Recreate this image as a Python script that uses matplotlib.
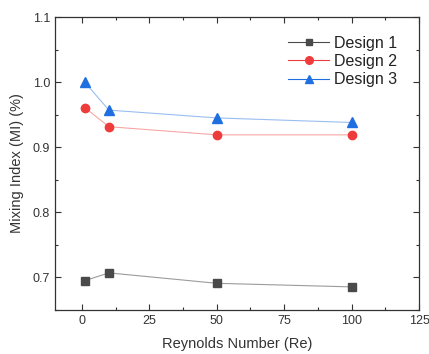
import numpy as np
import matplotlib
matplotlib.use("Agg")
import matplotlib.pyplot as plt
from matplotlib.ticker import MultipleLocator
from matplotlib.lines import Line2D

plt.rcParams.update({"font.family": ["Liberation Sans", "DejaVu Sans"], "font.size": 9})

re = [1, 10, 50, 100]
design1 = [0.695, 0.707, 0.691, 0.6855]
design2 = [0.961, 0.9315, 0.919, 0.919]
design3 = [1.000, 0.957, 0.945, 0.938]
labels = ["Design 1", "Design 2", "Design 3"]

C1 = "#4a4a4a"; C2 = "#ee3b3b"; C3 = "#1f6fe0"
TXT = "#333333"

fig = plt.figure(figsize=(4.29, 3.54), dpi=100)
ax = fig.add_axes([55/429, 1 - 310/354, (419-55)/429, (310-17)/354])

ax.plot(re, design1, color=C1, lw=0.8, alpha=0.55, zorder=1)
ax.plot(re, design1, ls="none", marker="s", ms=5.5, color=C1, zorder=2)
ax.plot(re, design2, color=C2, lw=0.8, alpha=0.45, zorder=1)
ax.plot(re, design2, ls="none", marker="o", ms=6, color=C2, zorder=2)
ax.plot(re, design3, color=C3, lw=0.8, alpha=0.45, zorder=1)
ax.plot(re, design3, ls="none", marker="^", ms=6.5, color=C3, zorder=2)

ax.set_xlim(-10, 125)
ax.set_ylim(0.65, 1.1)
ax.xaxis.set_major_locator(MultipleLocator(25))
ax.xaxis.set_minor_locator(MultipleLocator(12.5))
ax.yaxis.set_major_locator(MultipleLocator(0.1))
ax.yaxis.set_minor_locator(MultipleLocator(0.05))
ax.yaxis.set_major_formatter(matplotlib.ticker.FormatStrFormatter("%.1f"))
ax.tick_params(which="both", direction="in", top=True, right=True, color=TXT, labelcolor=TXT, labelsize=9)
ax.tick_params(which="major", length=4, width=0.8)
ax.tick_params(which="minor", length=2, width=0.8)
for s in ax.spines.values():
    s.set_color(TXT); s.set_linewidth(0.9)

ax.set_xlabel("Reynolds Number (Re)", fontsize=10.5, color=TXT, labelpad=7)
ax.set_ylabel("Mixing Index (MI) (%)", fontsize=10.5, color=TXT, labelpad=6)

handles = [Line2D([], [], color=C1, lw=0.8, marker="s", ms=5),
           Line2D([], [], color=C2, lw=0.8, marker="o", ms=5.5),
           Line2D([], [], color=C3, lw=0.8, marker="^", ms=6)]
leg = ax.legend(handles, labels, loc="upper right", bbox_to_anchor=(0.98, 0.985), frameon=False,
                fontsize=11.5, handlelength=2.6, labelspacing=0.2, handletextpad=0.3)
for t in leg.get_texts():
    t.set_color("#222222")

fig.savefig("out.png", dpi=100)
